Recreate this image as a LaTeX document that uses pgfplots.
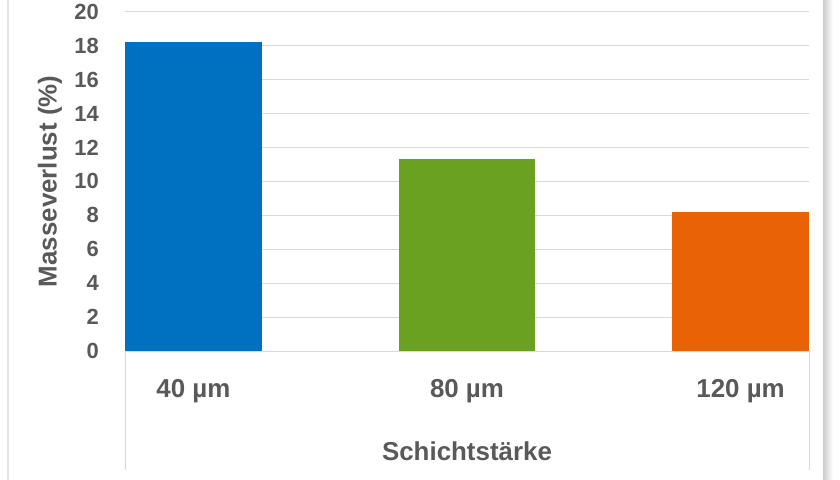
\documentclass[border=0pt]{standalone}
\usepackage{pgfplots}
\pgfplotsset{compat=1.18}
\usepackage{fontspec}
\setmainfont{Liberation Sans}
\definecolor{txt}{HTML}{595959}
\definecolor{gridc}{HTML}{D9D9D9}
\definecolor{cblue}{HTML}{0070C0}
\definecolor{cgreen}{HTML}{6AA121}
\definecolor{corange}{HTML}{E96205}
\begin{document}
\begin{tikzpicture}
\useasboundingbox (0,0) rectangle (840bp,480bp);
\fill[white] (0,0) rectangle (840bp,480bp);
\draw[gray!20, line width=1.5bp] (8bp,0) -- (8bp,480bp);
\shade[left color=gray!40, right color=white] (823bp,0) rectangle (833bp,480bp);
\begin{axis}[
  at={(125bp,129bp)}, anchor=south west,
  scale only axis, width=684bp, height=339.3bp,
  xmin=-0.25, xmax=2.25, ymin=0, ymax=20,
  ytick={0,2,...,20}, xtick={0,1,2},
  xticklabels={40 µm, 80 µm, 120 µm},
  axis line style={draw=none}, major tick length=0pt,
  ymajorgrids, grid style={gridc, line width=1bp},
  ybar, bar width=0.5, bar shift=0pt,
  /pgf/number format/assume math mode=true,
  yticklabel style={font=\fontsize{22}{22}\selectfont\bfseries, text=txt, anchor=east, inner sep=0pt, xshift=-26bp},
  xticklabel style={font=\fontsize{26}{26}\selectfont\bfseries, text=txt, anchor=base, inner sep=0pt, yshift=-46bp},
  ylabel={Masseverlust (\%)},
  ylabel style={font=\fontsize{26}{26}\selectfont\bfseries, text=txt, at={(axis description cs:-0.1096,0.5)}, anchor=center, inner sep=0pt},
  xlabel={Schichtstärke},
  xlabel style={font=\fontsize{26}{26}\selectfont\bfseries, text=txt, at={(axis description cs:0.5,0)}, anchor=base, inner sep=0pt, yshift=-109bp},
]
\addplot[draw=none, fill=cblue] coordinates {(0,18.2)};
\addplot[draw=none, fill=cgreen] coordinates {(1,11.3)};
\addplot[draw=none, fill=corange] coordinates {(2,8.2)};
\end{axis}
\draw[gridc, line width=1bp] (125bp,129bp) -- (125bp,10bp);
\draw[gridc, line width=1bp] (809bp,129bp) -- (809bp,10bp);
\end{tikzpicture}
\end{document}
